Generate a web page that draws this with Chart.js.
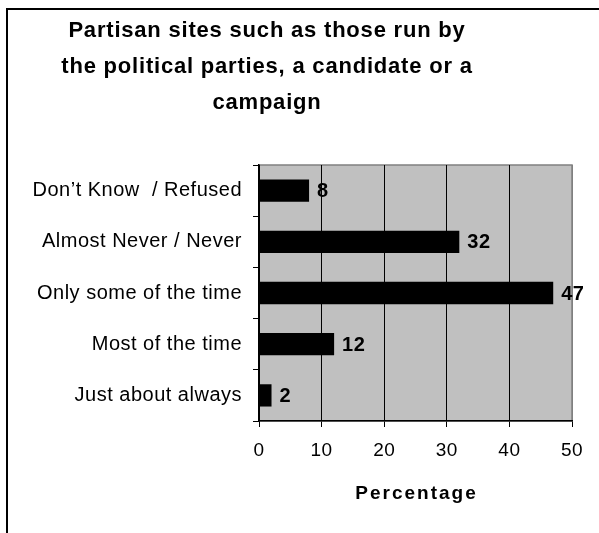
<!DOCTYPE html>
<html>
<head>
<meta charset="utf-8">
<script src="https://cdn.jsdelivr.net/npm/chart.js@4/dist/chart.umd.min.js"></script>
<style>
    html, body { margin: 0; padding: 0; background: #fff; }
    #wrap { width: 599px; height: 533px; position: relative; }
</style>
</head>
<body>
<div id="wrap"><canvas id="partisanChart"></canvas></div>
<script>
// Chart data
const titleLines = ['Partisan sites such as those run by', 'the political parties, a candidate or a', 'campaign'];
const categories = ['Don’t Know  / Refused', 'Almost Never / Never', 'Only some of the time', 'Most of the time', 'Just about always'];
const percentages = [8, 32, 47, 12, 2];
const xTicks = [0, 10, 20, 30, 40, 50];
const xAxisTitle = 'Percentage';

const FONT = "'Liberation Sans', Arial, sans-serif";

// 1. Background: outer frame + grey plot area
const framePlugin = {
    id: 'frame',
    beforeDraw(chart) {
        const { ctx, chartArea: a, width, height } = chart;
        ctx.save();
        ctx.fillStyle = '#fff';
        ctx.fillRect(0, 0, width, height);

        ctx.fillStyle = '#c0c0c0';
        ctx.fillRect(a.left, a.top, a.right - a.left, a.bottom - a.top);
        ctx.strokeStyle = '#808080';
        ctx.lineWidth = 1.5;
        ctx.strokeRect(a.left, a.top, a.right - a.left, a.bottom - a.top);

        ctx.strokeStyle = '#000';
        ctx.lineWidth = 2;
        ctx.beginPath();
        ctx.moveTo(7, height);
        ctx.lineTo(7, 9);
        ctx.lineTo(width, 9);
        ctx.stroke();
        ctx.restore();

        // axis labels are drawn slightly spaced out
        ctx.letterSpacing = '0.5px';
    }
};

// 2. Titles: chart title (centred a bit left of middle) and x axis title
const titlePlugin = {
    id: 'chartTitle',
    afterDraw(chart) {
        const { ctx, chartArea: a } = chart;
        ctx.save();
        ctx.fillStyle = '#000';
        ctx.textAlign = 'center';
        ctx.textBaseline = 'middle';

        ctx.font = `bold 22px ${FONT}`;
        ctx.letterSpacing = '0.8px';
        titleLines.forEach((line, i) => ctx.fillText(line, 267, 31 + i * 36));

        ctx.font = `bold 19px ${FONT}`;
        ctx.letterSpacing = '2px';
        ctx.fillText(xAxisTitle, (a.left + a.right) / 2 + 1, 494);
        ctx.restore();
    }
};

// 3. Value labels at the end of each bar
const valueLabels = {
    id: 'valueLabels',
    afterDatasetsDraw(chart) {
        const { ctx } = chart;
        const meta = chart.getDatasetMeta(0);
        ctx.save();
        ctx.fillStyle = '#000';
        ctx.font = `bold 20px ${FONT}`;
        ctx.letterSpacing = '0.5px';
        ctx.textAlign = 'left';
        ctx.textBaseline = 'middle';
        meta.data.forEach((bar, i) => {
            ctx.fillText(String(percentages[i]), bar.x + 8, bar.y + 1);
        });
        ctx.restore();
    }
};

Chart.defaults.font.family = FONT;
Chart.defaults.color = '#000';

new Chart(document.getElementById('partisanChart'), {
    type: 'bar',
    data: {
        labels: categories,
        datasets: [{
            data: percentages,
            backgroundColor: '#000',
            borderWidth: 0,
            barPercentage: 0.435,
            categoryPercentage: 1
        }]
    },
    options: {
        indexAxis: 'y',
        responsive: true,
        maintainAspectRatio: false,
        animation: false,
        layout: { padding: { top: 165, right: 27, bottom: 0, left: 0 } },
        plugins: {
            legend: { display: false },
            tooltip: { enabled: false }
        },
        scales: {
            x: {
                min: xTicks[0],
                max: xTicks[xTicks.length - 1],
                afterFit: (scale) => { scale.height = 112; },
                ticks: {
                    stepSize: xTicks[1] - xTicks[0],
                    padding: 12,
                    font: { size: 19 },
                    color: '#000'
                },
                grid: {
                    color: (c) => (c.tick && c.tick.value === xTicks[xTicks.length - 1]) ? '#808080' : '#000',
                    tickColor: '#000',
                    tickLength: 6,
                    lineWidth: 1
                },
                border: { color: '#000', width: 1.5 }
            },
            y: {
                afterFit: (scale) => { scale.width = 259; },
                ticks: {
                    padding: 11,
                    font: { size: 20 },
                    color: '#000'
                },
                grid: {
                    offset: true,
                    drawOnChartArea: false,
                    tickColor: '#000',
                    tickLength: 6
                },
                border: { color: '#000', width: 1.5 }
            }
        }
    },
    plugins: [framePlugin, titlePlugin, valueLabels]
});
</script>
</body>
</html>
